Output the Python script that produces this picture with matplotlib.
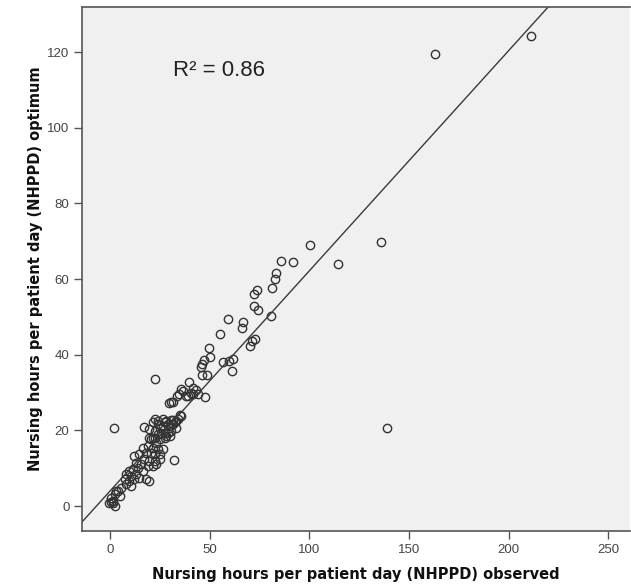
import matplotlib
matplotlib.use("Agg")
import matplotlib.pyplot as plt

# Observed vs optimum NHPPD
observed = [
    211, 163, 136, 139, 114.5, 100.4,
    91.7, 85.8, 83.5, 83, 81.2, 73.6, 72, 72.3, 74.2, 81, 59.1, 66.7, 66.4, 55,
    71, 70.4, 72.6, 49.5, 50.3, 47, 46.3, 45.8, 56.7, 59.7, 61.7, 61.2, 46.1, 48.8,
    22.4, 39.6, 41.6, 36.6, 35.8, 40.8, 43.3, 44.1, 38.3, 47.5, 39.1, 41.6, 34.6, 33.6,
    30.7, 29.4, 31.8, 34.9, 35.8, 34.1, 33.3, 31.5,
    22.4, 21.5, 24.0, 26.5, 28.2, 30.7, 29.0, 31.6,
    17.3, 1.9, 24.9, 26.5, 19.8, 22.4, 24.0, 27.4, 30.7, 33.3,
    21.5, 24.9, 28.2, 20.7, 24.0, 27.4, 29.9, 32.4, 25.7, 29.0,
    19.8, 22.4, 27.4, 29.9, 23.2,
    16.5, 19.0, 21.5, 24.0, 26.5, 18.2, 20.7, 22.4, 24.9,
    32.1, 12.3, 14.8, 17.3, 19.8, 22.4, 24.9,
    13.2, 15.7, 19.0, 21.5, 23.2, 9.8, 11.5, 14.0, 16.5,
    18.2, 19.8, 8.1, 10.6, 13.2, 7.3, 9.8, 12.3, 14.8,
    8.1, 10.6, 5.6, 3.1, 2.3, 4.8, 0.6, 1.4, -0.3, 2.3, 0.6, 1.4, 4.0,
]
optimum = [
    124.3, 119.5, 69.8, 20.6, 64.0, 69.1,
    64.4, 64.9, 61.6, 60, 57.6, 57.0, 56.1, 53.0, 51.9, 50.2, 49.5, 48.7, 47.2, 45.4,
    43.7, 42.4, 44.3, 41.7, 39.3, 38.5, 37.5, 36.8, 38.1, 38.4, 38.9, 35.8, 34.6, 34.6,
    33.6, 32.8, 31.3, 30.5, 30.9, 30.0, 30.7, 29.6, 29.1, 28.8, 29.1, 29.6, 29.6, 29.1,
    27.6, 27.2, 27.4, 24.1, 23.8, 23.0, 22.5, 22.8,
    23.0, 22.1, 22.5, 23.0, 22.5, 22.7, 21.6, 21.6,
    21.0, 20.7, 20.7, 21.2, 20.3, 19.9, 19.0, 19.4, 19.9, 20.7,
    18.1, 17.7, 18.5, 17.7, 21.6, 22.1, 21.2, 22.1, 19.4, 19.4,
    18.1, 18.1, 18.1, 18.5, 16.8,
    15.4, 15.9, 15.4, 15.0, 15.0, 14.1, 14.1, 13.7, 13.7,
    12.3, 13.2, 13.7, 12.4, 11.9, 11.9, 12.4,
    11.5, 11.0, 10.6, 10.6, 11.0, 9.3, 9.7, 10.1, 9.3,
    7.1, 6.6, 8.4, 7.9, 8.4, 7.1, 6.6, 7.1, 7.5,
    5.7, 5.3, 4.8, 4.0, 3.1, 2.6, 2.2, 0.9, 0.9, 0.0, 1.1, 1.3, 4.0,
]

fit_intercept = 3.95
fit_slope = 0.5825
r_squared_label = "R\u00b2 = 0.86"

x_ticks = [0, 50, 100, 150, 200, 250]
y_ticks = [0, 20, 40, 60, 80, 100, 120]
x_label = "Nursing hours per patient day (NHPPD) observed"
y_label = "Nursing hours per patient day (NHPPD) optimum"

fig = plt.figure(figsize=(6.31, 5.85), dpi=100)
ax = fig.add_axes([0.130, 0.0923, 0.869, 0.896])
ax.set_facecolor("#f0f0f0")

ax.plot(observed, optimum, linestyle="none", marker="o", markersize=6,
        markerfacecolor="none", markeredgecolor="#333333", markeredgewidth=1.0)
ax.axline((0, fit_intercept), slope=fit_slope, color="#3a3a3a", linewidth=1.0)

ax.set_xlim(-14, 261)
ax.set_ylim(-6.6, 132)
ax.set_xticks(x_ticks)
ax.set_yticks(y_ticks)
ax.tick_params(direction="out", length=5.5, width=1, color="#555555",
               labelsize=9.5, labelcolor="#444444")
for lab in ax.get_xticklabels() + ax.get_yticklabels():
    lab.set_family("Liberation Sans")

for s in ["left", "bottom", "top"]:
    ax.spines[s].set_color("#555555")
    ax.spines[s].set_linewidth(1.2)
ax.spines["right"].set_visible(False)

ax.set_xlabel(x_label, fontsize=10.5, fontweight="bold", family="DejaVu Sans",
              color="#111111", labelpad=8)
ax.set_ylabel(y_label, fontsize=10.5, fontweight="bold", family="DejaVu Sans",
              color="#111111", labelpad=3)

ax.text(31.4, 115.2, r_squared_label, fontsize=16, family="Liberation Sans",
        color="#222222", va="center", ha="left")

fig.savefig("out.png", dpi=100, facecolor="white")
